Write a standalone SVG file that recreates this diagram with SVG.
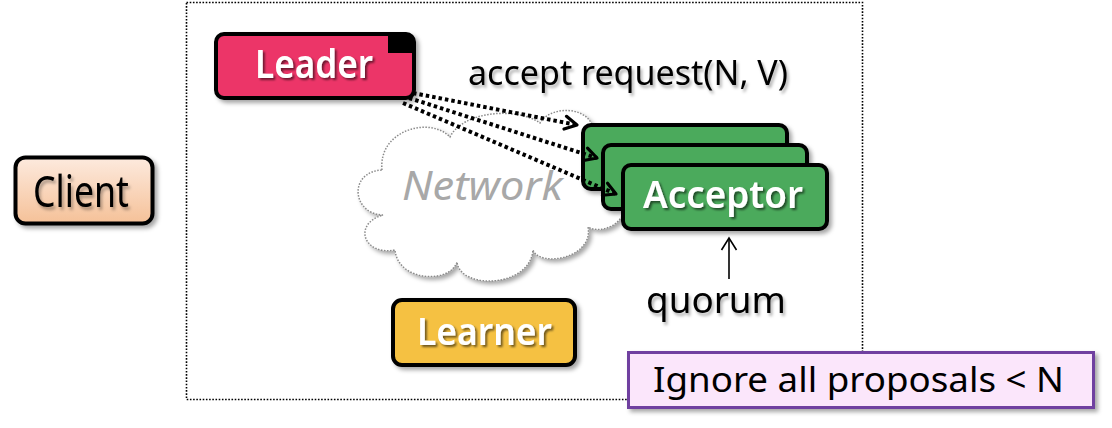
<svg xmlns="http://www.w3.org/2000/svg" width="1112" height="428" viewBox="0 0 1112 428">
<defs>
<linearGradient id="clientGrad" x1="0" y1="0" x2="0" y2="1">
<stop offset="0" stop-color="#fdeade"/>
<stop offset="1" stop-color="#f5c198"/>
</linearGradient>
<filter id="sh" x="-10%" y="-10%" width="130%" height="140%">
<feDropShadow dx="3" dy="3" stdDeviation="2" flood-color="#000" flood-opacity="0.35"/>
</filter>
<filter id="tshW" x="-10%" y="-20%" width="130%" height="150%">
<feDropShadow dx="2" dy="2" stdDeviation="1" flood-color="#000" flood-opacity="0.55"/>
</filter>
<filter id="tshB" x="-10%" y="-20%" width="130%" height="150%">
<feDropShadow dx="2" dy="3" stdDeviation="1.5" flood-color="#000" flood-opacity="0.3"/>
</filter>
<marker id="chev" markerUnits="userSpaceOnUse" markerWidth="18" markerHeight="18" viewBox="0 0 18 18" refX="15" refY="9" orient="auto">
<path d="M3,2.5 L15,9 L3,15.5" fill="none" stroke="#000" stroke-width="3.2" stroke-dasharray="none" stroke-linecap="round" stroke-linejoin="round"/>
</marker>
<marker id="open" markerUnits="userSpaceOnUse" markerWidth="20" markerHeight="20" viewBox="0 0 20 20" refX="14" refY="10" orient="auto">
<path d="M2,2.5 L14,10 L2,17.5" fill="none" stroke="#000" stroke-width="1.6"/>
</marker>
</defs>
<style>
.box{stroke:#000;stroke-width:4;filter:url(#sh)}
.lbl{font-family:"Noto Sans","Liberation Sans",sans-serif}
.wt{fill:#fff;font-weight:600;filter:url(#tshW)}
.bt{fill:#000;filter:url(#tshB)}
.dot{fill:none;stroke:#000;stroke-width:4;stroke-dasharray:3.5 3}
</style>
<rect id="frame" x="186.5" y="2.5" width="676" height="397" fill="none" stroke="#000" stroke-width="1.6" stroke-dasharray="1.6 1.6"/>

<g id="client">
<rect class="box" x="15.5" y="157.5" width="137" height="66" rx="10" fill="url(#clientGrad)" stroke-width="5"/>
<text class="lbl bt" x="33" y="207" font-size="44" textLength="96" lengthAdjust="spacingAndGlyphs">Client</text>
</g>

<g id="network">
<path d="M382,170 C378,130 430,116 450,137 C462,112 515,106 540,123 C550,106 585,106 592,125 C628,128 642,195 625,208 C622,226 600,234 588,227 C594,258 540,268 533,250 C530,288 460,290 457,262 C450,284 398,282 395,250 C364,256 352,224 383,215 C352,214 348,172 382,170 Z" fill="#fff" stroke="#8a8a8a" stroke-width="1.5" stroke-dasharray="1.5 1.5" filter="url(#sh)"/>
<text class="lbl" x="402" y="200" font-size="40" font-style="italic" fill="#a8a8a8" textLength="161" lengthAdjust="spacingAndGlyphs">Network</text>
</g>

<g id="leader">
<rect class="box" x="216" y="34" width="198" height="64" rx="8" fill="#ec3468"/>
<path d="M388,34 H406 Q414,34 414,42 V53 H388 Z" fill="#000"/>
<text class="lbl wt" x="255" y="78" font-size="40" textLength="118" lengthAdjust="spacingAndGlyphs">Leader</text>
</g>

<g id="acceptor1">
<rect class="box" x="583" y="125" width="204" height="64" rx="8" fill="#4caa5b"/>
</g>
<g id="acceptor2">
<rect class="box" x="603" y="145" width="204" height="64" rx="8" fill="#4caa5b"/>
</g>
<g id="acceptor3">
<rect class="box" x="623" y="165" width="204" height="64" rx="8" fill="#4caa5b"/>
<text class="lbl wt" x="643" y="208" font-size="37" textLength="160" lengthAdjust="spacingAndGlyphs">Acceptor</text>
</g>

<g id="learner">
<rect class="box" x="393" y="300" width="182" height="65" rx="9" fill="#f5c142"/>
<text class="lbl wt" x="417" y="345" font-size="38" textLength="135" lengthAdjust="spacingAndGlyphs">Learner</text>
</g>

<g id="note">
<rect x="628.5" y="352.5" width="465" height="55" fill="#fbe6fb" stroke="#7040a0" stroke-width="3" filter="url(#sh)"/>
<text class="lbl" x="653" y="392" font-size="35" fill="#000" textLength="411" lengthAdjust="spacingAndGlyphs">Ignore all proposals &lt; N</text>
</g>

<g id="labels">
<text class="lbl bt" x="468" y="85" font-size="35" textLength="320" lengthAdjust="spacingAndGlyphs">accept request(N, V)</text>
<text class="lbl bt" x="646" y="313" font-size="37" textLength="140" lengthAdjust="spacingAndGlyphs">quorum</text>
</g>

<g id="connectors">
<line class="dot" x1="413" y1="93" x2="577" y2="125" marker-end="url(#chev)"/>
<line class="dot" x1="409" y1="98" x2="597" y2="158" marker-end="url(#chev)"/>
<line class="dot" x1="403" y1="103" x2="616" y2="194" marker-end="url(#chev)"/>
<line x1="729" y1="279" x2="729" y2="238" stroke="#000" stroke-width="1.6" marker-end="url(#open)"/>
</g>
</svg>
